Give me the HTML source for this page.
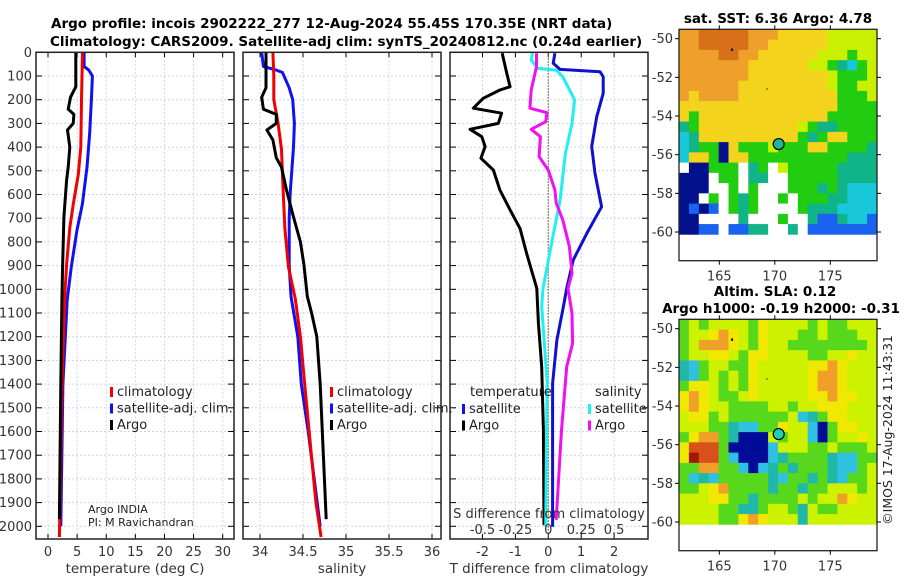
<!DOCTYPE html>
<html><head><meta charset="utf-8"><style>
body{margin:0;background:#fff;}
svg{display:block;font-family:"DejaVu Sans","Liberation Sans",sans-serif;}
</style></head><body>
<svg id="fig" width="900" height="580" viewBox="0 0 900 580" xmlns="http://www.w3.org/2000/svg">
<g font-weight="bold" font-size="13.5" fill="#000">
<text x="51" y="28">Argo profile: incois 2902222_277 12-Aug-2024 55.45S 170.35E (NRT data)</text>
<text x="50" y="46">Climatology: CARS2009. Satellite-adj clim: synTS_20240812.nc (0.24d earlier)</text>
<text x="778" y="23" text-anchor="middle">sat. SST: 6.36 Argo: 4.78</text>
<text x="775" y="296" text-anchor="middle">Altim. SLA: 0.12</text>
<text x="781" y="313" text-anchor="middle">Argo h1000: -0.19 h2000: -0.31</text>
</g>
<g id="layer"></g>
<text transform="translate(892,430) rotate(-90)" text-anchor="middle" font-size="12.5" fill="#222">©IMOS 17-Aug-2024 11:43:31</text>
</svg>
<script>
// ---- temperature panel data ----
const tArgoDepth=[0,145,190,240,262,300,328,400,485,540,695,905,1045,1400,1970];
const tArgoVal=[4.78,4.78,3.87,3.47,4.44,4.32,3.35,3.75,3.47,3.19,2.73,2.51,2.39,2.2,1.95];
const tClimDepth=[0,200,400,515,640,740,895,1020,1400,2045];
const tClimVal=[5.92,5.75,5.64,5.2,4.35,3.75,3.19,2.9,2.4,1.95];
const tSatDepth=[0,60,75,100,200,340,485,640,750,905,1045,1400,2000];
const tSatVal=[6.2,6.2,7.0,7.62,7.45,7.16,6.7,5.9,4.98,4.0,3.3,2.56,2.2];
// ---- salinity panel data ----
const sArgoDepth=[0,150,190,240,262,300,328,370,445,485,585,695,800,895,1030,1100,1200,1400,1970];
const sArgoVal=[34.07,34.07,34.02,34.04,34.19,34.19,34.08,34.15,34.19,34.25,34.31,34.39,34.47,34.51,34.55,34.6,34.66,34.7,34.77];
const sClimDepth=[0,100,200,300,410,590,745,905,1040,1200,1400,1900,2045];
const sClimVal=[34.15,34.16,34.16,34.21,34.25,34.27,34.29,34.33,34.41,34.47,34.52,34.65,34.71];
const sSatDepth=[0,60,75,85,150,200,300,400,500,600,700,900,1030,1200,1400,1600,2000];
const sSatVal=[34.02,34.04,34.19,34.26,34.34,34.38,34.4,34.39,34.37,34.35,34.34,34.34,34.36,34.44,34.48,34.56,34.7];
// ---- difference panel data ----
const dTArgoDepth=[4,89,145,159,194,236,257,300,325,356,398,447,497,581,665,743,848,996,1143,1327,1594,1995];
const dTArgoVal=[-1.4,-1.26,-1.16,-1.47,-1.98,-2.28,-1.42,-1.52,-2.38,-2.02,-1.92,-2.05,-1.67,-1.47,-1.16,-0.86,-0.66,-0.35,-0.3,-0.2,-0.15,-0.13];
const dTSatDepth=[4,46,72,82,103,173,272,398,511,652,764,876,996,1073,1214,1397,2002];
const dTSatVal=[0.2,0.15,0.36,1.57,1.67,1.67,1.47,1.32,1.42,1.62,1.17,0.76,0.56,0.46,0.26,0.13,0.13];
const dSSatDepth=[4,32,68,75,103,201,300,426,624,792,996,1073,1383,2002];
const dSSatVal=[-0.12,-0.13,-0.08,0.06,0.11,0.2,0.18,0.13,0.09,0.03,-0.04,-0.05,-0.01,-0.02];
const dSArgoDepth=[4,61,159,236,255,293,325,356,440,497,581,636,707,820,932,996,1101,1228,1327,1594,1973];
const dSArgoVal=[-0.09,-0.09,-0.13,-0.14,-0.01,-0.02,-0.13,-0.06,-0.07,0,0.05,0.06,0.11,0.16,0.18,0.15,0.18,0.185,0.14,0.1,0.06];
// ---- ticks ----
const depthTicks=[0,100,200,300,400,500,600,700,800,900,1000,1100,1200,1300,1400,1500,1600,1700,1800,1900,2000];
const tempTicks=[0,5,10,15,20,25,30];
const salTicks=[34,34.5,35,35.5,36];
const salTickLabels=['34','34.5','35','35.5','36'];
const dTTicks=[-2,-1,0,1,2];
const dSTicks=[-0.5,-0.25,0,0.25,0.5];
const latTicks=[-50,-52,-54,-56,-58,-60];
const lonTicks=[165,170,175];
// ---- map grids (heatmap cells) ----
const sstGrid=["ooOOOOOoooyyyyylllll","ooOOOOOooyyyyyylllll","ooooOOooyyyyyylllgll","oooooooyyyyyyllgtcgl","oooooooyyyyyyyylgggl","ooooooyyyyyyyyylggll","oyooooyyyyyyyyyygggl","yyyyyyyyyyyyyyyygggg","ygyyyyyyyyyyyyyggggg","tgyyyyyyyyyylgttgggg","ctyyyyyyyyyygtgyyggg","ctggnyggglgggyyggggt","cyygnyyggggggggggttt","wnngggwtgwlgggggtttt","nnnwggwttwwgggggtttt","nnnwwgwgwwwgggtgtccc","nnwgwgtgwwgwgggttccc","nbnbwgtgwwwwgtttcccc","nnwwwwtwwwgwwtbbtccb","nnbbwbbttwwtwbbbbbbb"];
const slaGrid=["glgllllgyllllglgglll","gllyoylgylllgglgggll","gloooylgyllggggggggl","gllyylgyyllllggllyll","tcgllggylllllyyoylll","tcglglgylllllyooylll","gyylglgylllllyooylll","yoylgglylllllyyoyyll","yoyllggggllgllyyylll","lyyglgggggglctgyylll","lllggtccggyllcngyyll","gyoogtnnnlgllcngllyl","yOOOgnnnnclllgglgggl","yROOgcnnnctggggtccgg","ggooggcnctgtgggtccgl","gctcgggggtcggtgtcggl","gglyoggggtggtgglllgl","lllyyggtgggglglloyll","llllggttgllgtlggllll","llllggyoyllltlllllll"];
const argoLon=170.35, argoLat=-55.45;

const NS='http://www.w3.org/2000/svg';
const layer=document.getElementById('layer');
function mk(tag,attrs,parent){const e=document.createElementNS(NS,tag);for(const k in attrs)e.setAttribute(k,attrs[k]);(parent||layer).appendChild(e);return e;}
const Y0=52.3,KY=0.237,YB=539;
function yD(d){return Y0+KY*d;}
function scale(x0,x1,v0,v1){return v=>x0+(v-v0)*(x1-x0)/(v1-v0);}
const panels=[
 {name:'temperature',L:36,R:234,sx:scale(48,222.7,0,30),ticks:tempTicks,labels:tempTicks.map(String),title:'temperature (deg C)'},
 {name:'salinity',L:243,R:441,sx:scale(260,432,34,36),ticks:salTicks,labels:salTickLabels,title:'salinity'},
 {name:'difference',L:450,R:648,sx:scale(548.3,581.2,0,1),ticks:dTTicks,labels:dTTicks.map(String),title:'T difference from climatology'}
];
const sxS=scale(548.3,581.2,0,0.25);
panels.forEach(p=>{
 const g=mk('g',{});
 
 
 p.ticks.forEach(t=>{const x=p.sx(t);
  const gl=mk('line',{x1:x,x2:x,y1:Y0,y2:YB,stroke:'#ccd3f2','stroke-dasharray':'2,2','stroke-width':1},g);
  
  mk('line',{x1:x,x2:x,y1:YB,y2:YB-5,stroke:'#000'},g);mk('line',{x1:x,x2:x,y1:Y0,y2:Y0+5,stroke:'#000'},g);});
 depthTicks.forEach(d=>{const y=yD(d);
  const gl=mk('line',{x1:p.L,x2:p.R,y1:y,y2:y,stroke:'#ccd3f2','stroke-dasharray':'2,2','stroke-width':1},g);
  
  mk('line',{x1:p.L,x2:p.L+6,y1:y,y2:y,stroke:'#000'},g);mk('line',{x1:p.R,x2:p.R-6,y1:y,y2:y,stroke:'#000'},g);});
 p.ticks.forEach((t,i)=>{const tx=mk('text',{x:p.sx(t),y:556,'text-anchor':'middle','font-size':13,fill:'#333'},g);tx.textContent=p.labels[i];
  });
 const tt=mk('text',{x:(p.L+p.R)/2,y:573,'text-anchor':'middle','font-size':13.5,fill:'#333'},g);tt.textContent=p.title;
 
 p.g=g;
});
depthTicks.forEach(d=>{const t=mk('text',{x:32,y:yD(d)+4.5,'text-anchor':'end','font-size':13,fill:'#333'});t.textContent=String(d);
 });
const zl=mk('line',{x1:548.3,x2:548.3,y1:Y0,y2:YB,stroke:'#6b6b2a','stroke-dasharray':'1.5,1.5','stroke-width':1.2});

function series(ds,vs,sx,color,name){const pts=ds.map((d,i)=>sx(vs[i]).toFixed(1)+','+yD(d).toFixed(1)).join(' ');
 const e=mk('polyline',{points:pts,fill:'none',stroke:color,'stroke-width':3,'stroke-linejoin':'round'});
 }
series(tSatDepth,tSatVal,panels[0].sx,'#1010f0','temp-satellite-line');
series(tClimDepth,tClimVal,panels[0].sx,'#f00000','temp-climatology-line');
series(tArgoDepth,tArgoVal,panels[0].sx,'#000','temp-argo-line');
series(sSatDepth,sSatVal,panels[1].sx,'#1010f0','sal-satellite-line');
series(sClimDepth,sClimVal,panels[1].sx,'#f00000','sal-climatology-line');
series(sArgoDepth,sArgoVal,panels[1].sx,'#000','sal-argo-line');
series(dTArgoDepth,dTArgoVal,panels[2].sx,'#000','tdiff-argo-line');
series(dTSatDepth,dTSatVal,panels[2].sx,'#1010d0','tdiff-satellite-line');
series(dSSatDepth,dSSatVal,sxS,'#20f0f0','sdiff-satellite-line');
series(dSArgoDepth,dSArgoVal,sxS,'#f010f0','sdiff-argo-line');
panels.forEach(p=>{const r=mk('rect',{x:p.L,y:Y0,width:p.R-p.L,height:YB-Y0,fill:'none',stroke:'#222','stroke-width':1.5});
 });
dSTicks.forEach(s=>{const t=mk('text',{x:sxS(s),y:534,'text-anchor':'middle','font-size':13,fill:'#333'});t.textContent=String(s);
 });
{const t=mk('text',{x:549,y:518,'text-anchor':'middle','font-size':13,fill:'#333'});t.textContent='S difference from climatology';
 }
function legend(x,y,color,label,nm){const m=mk('rect',{x:x,y:y-9,width:3,height:10,fill:color});
 
 const t=mk('text',{x:x+7,y:y,'font-size':13,fill:'#222'});t.textContent=label;
 }
[[110,'#f00000','climatology'],[110,'#1010f0','satellite-adj. clim.'],[110,'#000','Argo']].forEach((l,i)=>legend(l[0],396+i*16.5,l[1],l[2],'temp-legend-entry'));
[[330,'#f00000','climatology'],[330,'#1010f0','satellite-adj. clim.'],[330,'#000','Argo']].forEach((l,i)=>legend(l[0],396+i*16.5,l[1],l[2],'sal-legend-entry'));
{const t=mk('text',{x:470,y:396,'font-size':13,fill:'#222'});t.textContent='temperature';}
{const t=mk('text',{x:595,y:396,'font-size':13,fill:'#222'});t.textContent='salinity';}
legend(462,413,'#1010f0','satellite','tdiff-legend-entry');legend(462,429.5,'#000','Argo','tdiff-legend-entry');
legend(588,413,'#20f0f0','satellite','sdiff-legend-entry');legend(588,429.5,'#f010f0','Argo','sdiff-legend-entry');
{const t=mk('text',{x:88,y:513,'font-size':11,fill:'#222'});t.textContent='Argo INDIA';
 const t2=mk('text',{x:88,y:526,'font-size':11,fill:'#222'});t2.textContent='PI: M Ravichandran';}
const colorMap1={O:'#d8701a',o:'#eea12a',y:'#f4d31c',l:'#c8f000',g:'#22cc10',t:'#10b488',c:'#18c8d8',b:'#1a62f0',n:'#02108c',w:'#ffffff',R:'#a81a0a'};
const colorMap2={O:'#d8501a',R:'#a01808',o:'#f0a028',y:'#f0e800',l:'#ccf200',g:'#58d81c',t:'#20b8a8',c:'#30c0e0',b:'#2070f0',n:'#000c98',w:'#ffffff'};
function map(top,grid,cmap,title,bottomY,circleFill){
 const L=679,R=877,lon=scale(719.3,830.3,165,175),lat=scale(top+9.4,top+202.7,-50,-60);
 const g=mk('g',{});
 const rows=grid.length,cols=grid[0].length,yTop=lat(-49.52),yBot=lat(-60.12),cw=(R-L)/cols,ch=(yBot-yTop)/rows;
 grid.forEach((row,r)=>{for(let c=0;c<cols;c++){const cell=mk('rect',{x:(L+c*cw).toFixed(2),y:(yTop+r*ch).toFixed(2),width:(cw+0.4).toFixed(2),height:(ch+0.4).toFixed(2),fill:cmap[row[c]]},g);
  }});
 mk('path',{d:`M${lon(166)} ${lat(-50.6)} l2 -3 l1 4 z M${lon(169.2)} ${lat(-52.6)} l2 -1 l-1 2 z`,fill:'#111'},g);
 const ci=mk('circle',{cx:lon(argoLon),cy:lat(argoLat),r:5.5,fill:circleFill,stroke:'#000','stroke-width':1.2},g);
 
 const fr=mk('rect',{x:L,y:top,width:R-L,height:bottomY-top,fill:'none',stroke:'#222','stroke-width':1.3},g);
 
 latTicks.forEach(v=>{const y=lat(v);mk('line',{x1:L,x2:L-4,y1:y,y2:y,stroke:'#000'},g);mk('line',{x1:R,x2:R+4,y1:y,y2:y,stroke:'#000'},g);
  const t=mk('text',{x:673,y:y+4.5,'text-anchor':'end','font-size':13,fill:'#333'},g);t.textContent=String(v);
  });
 lonTicks.forEach(v=>{const x=lon(v);mk('line',{x1:x,x2:x,y1:bottomY,y2:bottomY+4,stroke:'#000'},g);mk('line',{x1:x,x2:x,y1:top,y2:top-4,stroke:'#000'},g);
  const t=mk('text',{x:x,y:bottomY+20,'text-anchor':'middle','font-size':13,fill:'#333'},g);t.textContent=String(v);
  });
}
map(29.3,sstGrid,colorMap1,'sst-map',260.7,'#20b890');
map(319.3,slaGrid,colorMap2,'sla-map',550.7,'#20d0b0');
</script>
</body></html>
